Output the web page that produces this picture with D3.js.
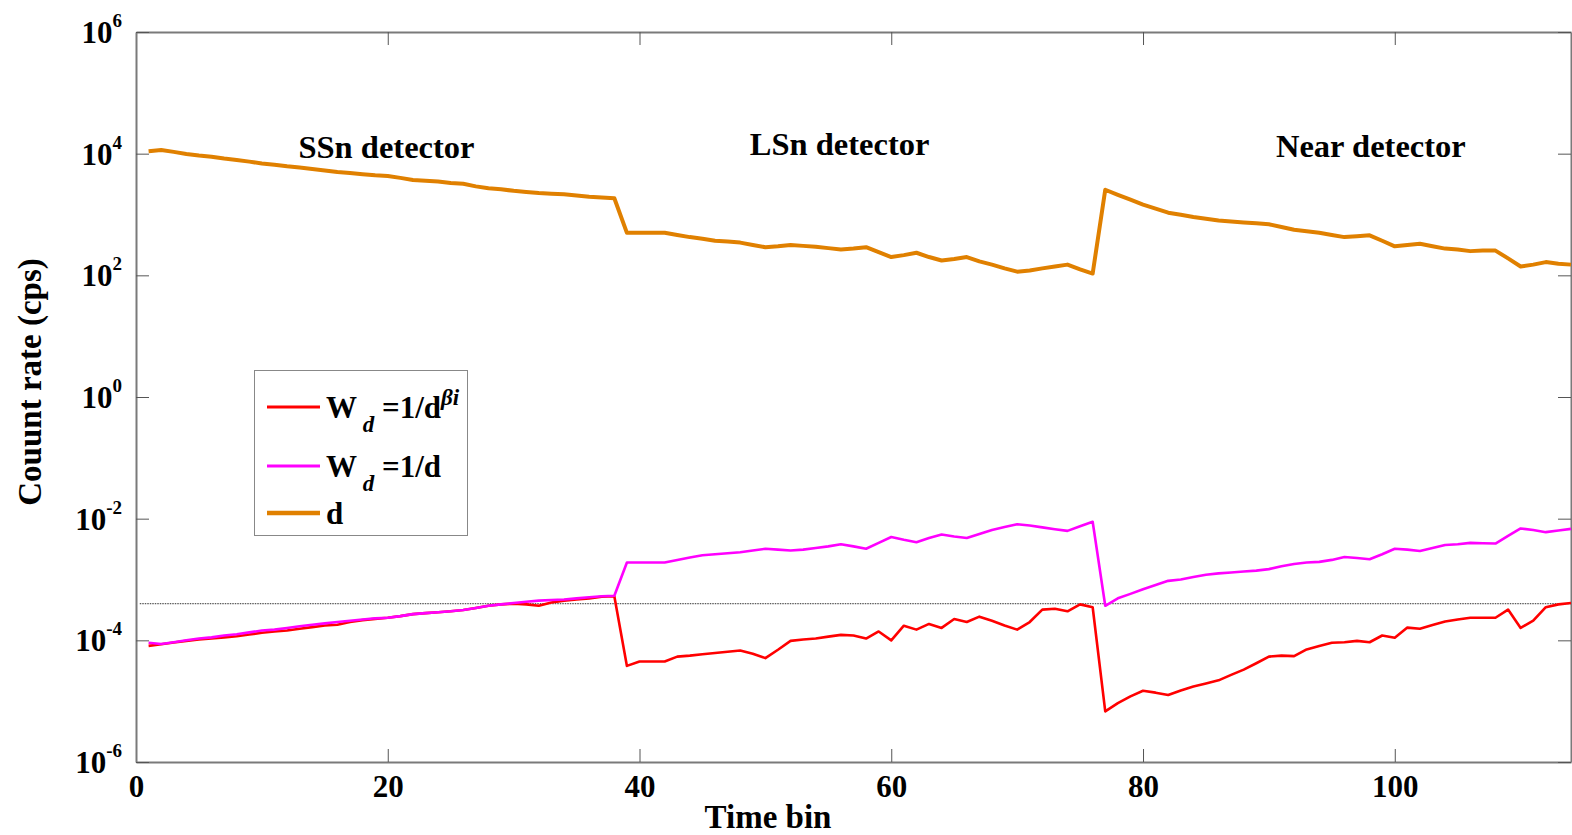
<!DOCTYPE html>
<html>
<head>
<meta charset="utf-8">
<script src="https://cdn.jsdelivr.net/npm/d3@7"></script>
<style>
  body { margin: 0; background: #fff; }
  svg text { font-family: "Liberation Serif", "Times New Roman", serif; font-weight: bold; fill: #000; }
</style>
</head>
<body>
<div id="vis"></div>
<script>
// time bins 1..114
const timeBins = d3.range(1, 115);

// d (orange)
const dRate = [
  1.10e4, 1.15e4, 1.07e4, 9.9e3, 9.3e3, 8.9e3, 8.3e3, 7.9e3, 7.4e3, 6.9e3,
  6.6e3, 6.2e3, 5.9e3, 5.6e3, 5.3e3, 5.0e3, 4.8e3, 4.6e3, 4.4e3, 4.3e3,
  4.0e3, 3.7e3, 3.6e3, 3.5e3, 3.3e3, 3.2e3, 2.9e3, 2.7e3, 2.6e3, 2.45e3,
  2.35e3, 2.25e3, 2.2e3, 2.15e3, 2.05e3, 1.95e3, 1.9e3, 1.85e3, 500, 500,
  500, 500, 460, 425, 400, 370, 360, 345, 315, 290,
  300, 315, 305, 295, 280, 265, 275, 290, 240, 200,
  215, 235, 200, 175, 185, 200, 170, 150, 130, 115,
  120, 130, 140, 150, 125, 107, 2.55e3, 2.1e3, 1.75e3, 1.45e3,
  1.25e3, 1.07e3, 990, 910, 850, 795, 770, 740, 715, 690,
  625, 560, 530, 500, 460, 425, 440, 455, 370, 300,
  315, 330, 300, 275, 265, 250, 255, 255, 190, 140,
  150, 165, 155, 150
];

// W_d = 1/d (magenta)
const wInv = [
  9.1e-5, 8.7e-5, 9.3e-5, 1.0e-4, 1.07e-4, 1.12e-4, 1.2e-4, 1.26e-4, 1.35e-4, 1.45e-4,
  1.5e-4, 1.6e-4, 1.7e-4, 1.8e-4, 1.9e-4, 2.0e-4, 2.1e-4, 2.2e-4, 2.3e-4, 2.35e-4,
  2.5e-4, 2.7e-4, 2.8e-4, 2.9e-4, 3.0e-4, 3.15e-4, 3.4e-4, 3.7e-4, 3.9e-4, 4.1e-4,
  4.3e-4, 4.5e-4, 4.6e-4, 4.7e-4, 4.9e-4, 5.1e-4, 5.3e-4, 5.4e-4, 1.9e-3, 1.9e-3,
  1.9e-3, 1.9e-3, 2.1e-3, 2.3e-3, 2.5e-3, 2.6e-3, 2.7e-3, 2.8e-3, 3.0e-3, 3.2e-3,
  3.1e-3, 3.0e-3, 3.1e-3, 3.3e-3, 3.5e-3, 3.8e-3, 3.5e-3, 3.2e-3, 4.0e-3, 5.0e-3,
  4.5e-3, 4.1e-3, 4.8e-3, 5.5e-3, 5.1e-3, 4.8e-3, 5.6e-3, 6.5e-3, 7.3e-3, 8.1e-3,
  7.7e-3, 7.2e-3, 6.7e-3, 6.3e-3, 7.5e-3, 8.9e-3, 3.7e-4, 4.9e-4, 5.8e-4, 6.9e-4,
  8.1e-4, 9.5e-4, 1.0e-3, 1.1e-3, 1.2e-3, 1.26e-3, 1.3e-3, 1.35e-3, 1.4e-3, 1.48e-3,
  1.65e-3, 1.8e-3, 1.9e-3, 1.95e-3, 2.1e-3, 2.35e-3, 2.25e-3, 2.15e-3, 2.6e-3, 3.2e-3,
  3.1e-3, 2.95e-3, 3.3e-3, 3.7e-3, 3.8e-3, 4.0e-3, 3.95e-3, 3.9e-3, 5.2e-3, 6.9e-3,
  6.5e-3, 6.0e-3, 6.4e-3, 6.8e-3
];

// W_d = 1/d^(beta i) (red)
const wBeta = [
  8.1e-5, 8.6e-5, 9.2e-5, 9.8e-5, 1.03e-4, 1.07e-4, 1.12e-4, 1.17e-4, 1.25e-4, 1.33e-4,
  1.4e-4, 1.45e-4, 1.55e-4, 1.65e-4, 1.75e-4, 1.8e-4, 2.0e-4, 2.15e-4, 2.25e-4, 2.35e-4,
  2.5e-4, 2.7e-4, 2.8e-4, 2.9e-4, 3.0e-4, 3.15e-4, 3.4e-4, 3.7e-4, 3.9e-4, 4.0e-4,
  3.9e-4, 3.7e-4, 4.2e-4, 4.5e-4, 4.7e-4, 4.9e-4, 5.2e-4, 5.3e-4, 3.8e-5, 4.5e-5,
  4.5e-5, 4.5e-5, 5.4e-5, 5.6e-5, 5.9e-5, 6.2e-5, 6.5e-5, 6.8e-5, 6.0e-5, 5.1e-5,
  7.0e-5, 9.8e-5, 1.03e-4, 1.07e-4, 1.15e-4, 1.23e-4, 1.2e-4, 1.07e-4, 1.4e-4, 1.0e-4,
  1.74e-4, 1.5e-4, 1.86e-4, 1.6e-4, 2.24e-4, 2.0e-4, 2.45e-4, 2.1e-4, 1.75e-4, 1.5e-4,
  2.0e-4, 3.2e-4, 3.3e-4, 3.0e-4, 3.9e-4, 3.5e-4, 6.8e-6, 9.3e-6, 1.2e-5, 1.48e-5,
  1.38e-5, 1.26e-5, 1.5e-5, 1.74e-5, 1.95e-5, 2.2e-5, 2.7e-5, 3.3e-5, 4.2e-5, 5.4e-5,
  5.6e-5, 5.5e-5, 7.1e-5, 8.1e-5, 9.1e-5, 9.3e-5, 9.8e-5, 9.3e-5, 1.2e-4, 1.1e-4,
  1.62e-4, 1.55e-4, 1.78e-4, 2.04e-4, 2.2e-4, 2.35e-4, 2.35e-4, 2.35e-4, 3.2e-4, 1.6e-4,
  2.1e-4, 3.5e-4, 3.9e-4, 4.1e-4
];

const refLevel = 4e-4;
const xTicks = [0, 20, 40, 60, 80, 100];
const yTickExp = [-6, -4, -2, 0, 2, 4, 6];
const regionLabels = ["SSn detector", "LSn detector", "Near detector"];
const regionCenters = [19.9, 55.9, 98.1];

// tamanho
const W = 1572, H = 835;
const margin = { top: 32, right: 1, bottom: 73, left: 136 };
const width = W - margin.left - margin.right;
const height = H - margin.top - margin.bottom;

const svg = d3.select("#vis").append("svg")
  .attr("width", W).attr("height", H);
const g = svg.append("g")
  .attr("transform", `translate(${margin.left},${margin.top})`);

const x = d3.scaleLinear().domain([0, 114]).range([0, width]);
const y = d3.scaleLog().domain([1e-6, 1e6]).range([height, 0]);

// eixos
const frameColor = "#7a7a7a";
const tickLen = 13;

const xAxis = g.append("g")
  .attr("transform", `translate(0,${height})`)
  .call(d3.axisBottom(x).tickValues(xTicks).tickSizeInner(-tickLen).tickSizeOuter(0).tickPadding(13).tickFormat(d3.format("d")));
xAxis.selectAll("text").attr("font-size", 31);

g.append("g")
  .call(d3.axisTop(x).tickValues(xTicks).tickSizeInner(-tickLen).tickSizeOuter(0).tickFormat(""));

const yVals = yTickExp.map(e => Math.pow(10, e));
g.append("g")
  .call(d3.axisLeft(y).tickValues(yVals).tickSizeInner(-tickLen).tickSizeOuter(0).tickFormat(""));

g.append("g")
  .attr("transform", `translate(${width},0)`)
  .call(d3.axisRight(y).tickValues(yVals).tickSizeInner(-tickLen).tickSizeOuter(0).tickFormat(""));

g.selectAll(".domain").attr("stroke", frameColor).attr("stroke-width", 2);
g.selectAll(".tick line").attr("stroke", "#555");

// rótulos 10^n
yTickExp.forEach(e => {
  const t = g.append("text")
    .attr("x", -14)
    .attr("y", y(Math.pow(10, e)) + 11)
    .attr("text-anchor", "end")
    .attr("font-size", 31);
  t.append("tspan").text("10");
  t.append("tspan").attr("dy", -16).attr("font-size", 19).text(e);
});

// linha pontilhada
g.append("line")
  .attr("x1", x(0.3)).attr("x2", width)
  .attr("y1", y(refLevel)).attr("y2", y(refLevel))
  .attr("stroke", "#333").attr("stroke-width", 1)
  .attr("stroke-dasharray", "1.5,1");

// séries
const line = d3.line()
  .x((d, i) => x(timeBins[i]))
  .y(d => y(d));

g.append("path").datum(wBeta).attr("d", line)
  .attr("fill", "none").attr("stroke", "#ff0000").attr("stroke-width", 2.6).attr("stroke-linejoin", "round");
g.append("path").datum(wInv).attr("d", line)
  .attr("fill", "none").attr("stroke", "#ff00ff").attr("stroke-width", 2.6).attr("stroke-linejoin", "round");
g.append("path").datum(dRate).attr("d", line)
  .attr("fill", "none").attr("stroke", "#e08000").attr("stroke-width", 4).attr("stroke-linejoin", "round");

// textos das regiões
const labelY = [158, 155, 157];
regionLabels.forEach((s, i) => {
  svg.append("text")
    .attr("x", margin.left + x(regionCenters[i]))
    .attr("y", labelY[i])
    .attr("text-anchor", "middle")
    .attr("font-size", 32.5)
    .text(s);
});

// títulos dos eixos
svg.append("text")
  .attr("x", 768)
  .attr("y", 828)
  .attr("text-anchor", "middle")
  .attr("font-size", 33)
  .text("Time bin");

svg.append("text")
  .attr("transform", `translate(41,382) rotate(-90)`)
  .attr("text-anchor", "middle")
  .attr("font-size", 33)
  .text("Couunt rate (cps)");

// legenda
const leg = svg.append("g");
leg.append("rect")
  .attr("x", 254.5).attr("y", 370.5).attr("width", 213).attr("height", 165)
  .attr("fill", "#fff").attr("stroke", "#888").attr("stroke-width", 1);

const legRows = [
  { color: "#ff0000", w: 3, y: 407 },
  { color: "#ff00ff", w: 3, y: 466 },
  { color: "#e08000", w: 4.5, y: 513 }
];
legRows.forEach(r => {
  leg.append("line")
    .attr("x1", 267).attr("x2", 320).attr("y1", r.y).attr("y2", r.y)
    .attr("stroke", r.color).attr("stroke-width", r.w);
});

const t1 = leg.append("text").attr("x", 326).attr("y", 418).attr("font-size", 31);
t1.append("tspan").text("W");
t1.append("tspan").attr("dy", 14).attr("font-size", 23).attr("font-style", "italic").text(" d");
t1.append("tspan").attr("dy", -14).text(" =1/d");
t1.append("tspan").attr("dy", -13).attr("font-size", 23).attr("font-style", "italic").text("βi");

const t2 = leg.append("text").attr("x", 326).attr("y", 477).attr("font-size", 31);
t2.append("tspan").text("W");
t2.append("tspan").attr("dy", 14).attr("font-size", 23).attr("font-style", "italic").text(" d");
t2.append("tspan").attr("dy", -14).text(" =1/d");

leg.append("text").attr("x", 326).attr("y", 524).attr("font-size", 31).text("d");
</script>
</body>
</html>
